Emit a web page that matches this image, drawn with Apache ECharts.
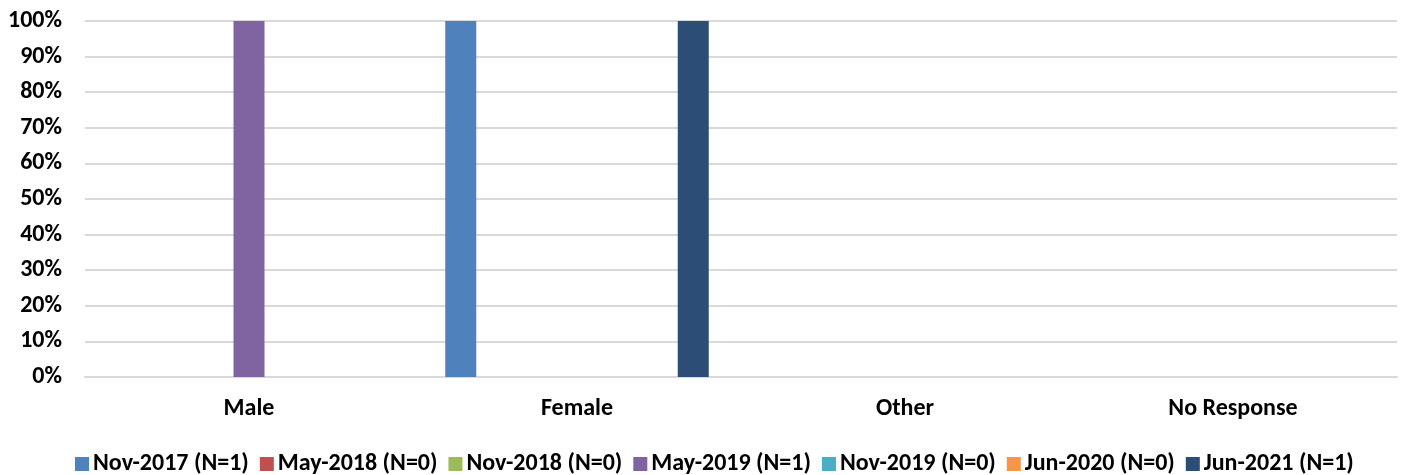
<!DOCTYPE html>
<html>
<head>
<meta charset="utf-8">
<script src="https://cdn.jsdelivr.net/npm/echarts@6/dist/echarts.min.js"></script>
<style>
  html, body { margin: 0; padding: 0; background: #fff; }
  #chart { width: 1405px; height: 475px; }
</style>
</head>
<body>
<div id="chart"></div>
<script>
const categories = ['Male', 'Female', 'Other', 'No Response'];
const seriesNames = [
  'Nov-2017 (N=1)', 'May-2018 (N=0)', 'Nov-2018 (N=0)', 'May-2019 (N=1)',
  'Nov-2019 (N=0)', 'Jun-2020 (N=0)', 'Jun-2021 (N=1)'
];
const nov2017 = [0, 100, 0, 0];
const may2018 = [0, 0, 0, 0];
const nov2018 = [0, 0, 0, 0];
const may2019 = [100, 0, 0, 0];
const nov2019 = [0, 0, 0, 0];
const jun2020 = [0, 0, 0, 0];
const jun2021 = [0, 100, 0, 0];
const colors = ['#4F81BD', '#C0504D', '#9BBB59', '#8064A2', '#4BACC6', '#F79646', '#2C4D75'];

const values = [nov2017, may2018, nov2018, may2019, nov2019, jun2020, jun2021];
const font = 'Carlito, "Liberation Sans Narrow", "Open Sans", sans-serif';

const chart = echarts.init(document.getElementById('chart'));

chart.setOption({
  animation: false,
  color: colors,
  grid: { left: 85, right: 8, top: 21, bottom: 98 },
  legend: {
    top: 447,
    left: 70,
    padding: 5,
    itemWidth: 14,
    itemHeight: 14,
    itemGap: 11,
    icon: 'rect',
    textStyle: { fontFamily: font, fontWeight: 'bold', fontSize: 24, color: '#000', padding: [0, 0, 0, -1] },
    data: seriesNames
  },
  xAxis: {
    type: 'category',
    data: categories,
    axisTick: { show: false },
    axisLine: { lineStyle: { color: '#D9D9D9', width: 2 } },
    axisLabel: { fontFamily: font, fontWeight: 'bold', fontSize: 24, color: '#000', margin: 20 }
  },
  yAxis: {
    type: 'value',
    min: 0,
    max: 100,
    interval: 10,
    axisLabel: { fontFamily: font, fontWeight: 'bold', fontSize: 24, color: '#000', formatter: '{value}%', margin: 23 },
    splitLine: { lineStyle: { color: '#D9D9D9', width: 2 } },
    axisLine: { show: false },
    axisTick: { show: false }
  },
  series: seriesNames.map((name, i) => ({
    name,
    type: 'bar',
    data: values[i],
    barWidth: 31,
    barGap: '25%'
  }))
});
</script>
</body>
</html>
